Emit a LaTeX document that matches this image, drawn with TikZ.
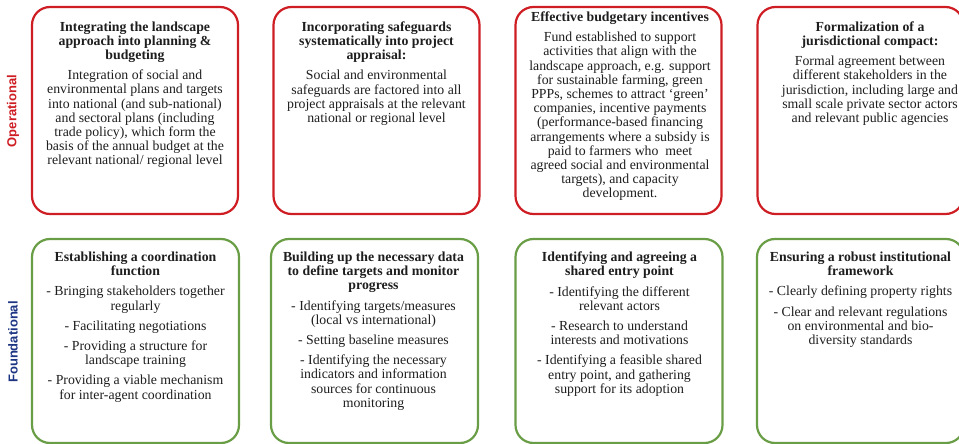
\documentclass[tikz,border=0pt]{standalone}
\usepackage{fontspec}
\setmainfont{Liberation Serif}
\newfontfamily\rowfont{Liberation Sans}
\definecolor{opred}{RGB}{206,30,36}
\definecolor{fdgreen}{RGB}{106,158,70}
\definecolor{fdblue}{RGB}{28,52,130}
\definecolor{ink}{RGB}{30,30,30}
\begin{document}
\begin{tikzpicture}[x=1pt,y=-1pt,
  card/.style={draw, line width=2.2pt, rounded corners=18pt, fill=white, inner sep=0pt},
  opcard/.style={card, draw=opred, minimum width=206pt, minimum height=207pt},
  fdcard/.style={card, draw=fdgreen, minimum width=207pt, minimum height=204pt},
  cardtext/.style={align=center, inner sep=0pt, anchor=north, text=ink,
    font=\fontsize{13.8}{14.2}\selectfont},
  rowlabel/.style={rotate=90, inner sep=0pt, font=\rowfont\bfseries\fontsize{13}{15}\selectfont}
]
\useasboundingbox (0,0) rectangle (959,444);

% operational row
\node[opcard] (op1) at (135,110.5) {};
\node[opcard] (op2) at (376.5,110.5) {};
\node[opcard] (op3) at (618.5,110.5) {};
\node[opcard] (op4) at (860.5,110.5) {};

% foundational row
\node[fdcard] (fd1) at (135.5,341) {};
\node[fdcard] (fd2) at (374.5,341) {};
\node[fdcard] (fd3) at (619,341) {};
\node[fdcard] (fd4) at (860.5,341) {};

% row labels
\node[rowlabel, text=opred] (oplabel) at (13,111) {Operational};
\node[rowlabel, text=fdblue] (fdlabel) at (13,342) {Foundational};

% texts of the operational cards
\node[cardtext] (op1txt) at (135,21.3) {\textbf{Integrating the landscape}\\
  \textbf{approach into planning \&}\\ \textbf{budgeting}\\[6pt]
  Integration of social and\\ environmental plans and targets\\
  into national (and sub-national)\\ and sectoral plans (including\\
  trade policy), which form the\\ basis of the annual budget at the\\
  relevant national/ regional level};

\node[cardtext] (op2txt) at (376.5,21.3) {\textbf{Incorporating safeguards}\\
  \textbf{systematically into project}\\ \textbf{appraisal:}\\[6pt]
  Social and environmental\\ safeguards are factored into all\\
  project appraisals at the relevant\\ national or regional level};

\node[cardtext] (op3txt) at (620,11.5) {\textbf{Effective budgetary incentives}\\[6pt]
  Fund established to support\\ activities that align with the\\
  landscape approach, e.g. support\\ for sustainable farming, green\\
  PPPs, schemes to attract ‘green’\\ companies, incentive payments\\
  (performance-based financing\\ arrangements where a subsidy is\\
  paid to farmers who\ \ meet\\ agreed social and environmental\\
  targets), and capacity\\ development.};

\node[cardtext] (op4txt) at (870,21.3) {\textbf{Formalization of a}\\
  \textbf{jurisdictional compact:}\\[6pt]
  Formal agreement between\\ different stakeholders in the\\
  jurisdiction, including large and\\ small scale private sector actors\\
  and relevant public agencies};

% texts of the foundational cards
\node[cardtext] (fd1txt) at (135.5,251.8) {\textbf{Establishing a coordination}\\
  \textbf{function}\\[6pt]
  - Bringing stakeholders together\\ regularly\\[6pt]
  - Facilitating negotiations\\[6pt]
  - Providing a structure for\\ landscape training\\[6pt]
  - Providing a viable mechanism\\ for inter-agent coordination};

\node[cardtext] (fd2txt) at (373.5,251.8) {\textbf{Building up the necessary data}\\
  \textbf{to define targets and monitor}\\ \textbf{progress}\\[6pt]
  - Identifying targets/measures\\ (local vs international)\\[6pt]
  - Setting baseline measures\\[6pt]
  - Identifying the necessary\\ indicators and information\\
  sources for continuous\\ monitoring};

\node[cardtext] (fd3txt) at (619.5,251.8) {\textbf{Identifying and agreeing a}\\
  \textbf{shared entry point}\\[6pt]
  - Identifying the different\\ relevant actors\\[6pt]
  - Research to understand\\ interests and motivations\\[6pt]
  - Identifying a feasible shared\\ entry point, and gathering\\
  support for its adoption};

\node[cardtext] (fd4txt) at (860.5,251.8) {\textbf{Ensuring a robust institutional}\\
  \textbf{framework}\\[6pt]
  - Clearly defining property rights\\[6pt]
  - Clear and relevant regulations\\ on environmental and bio-\\
  diversity standards};
\end{tikzpicture}
\end{document}
